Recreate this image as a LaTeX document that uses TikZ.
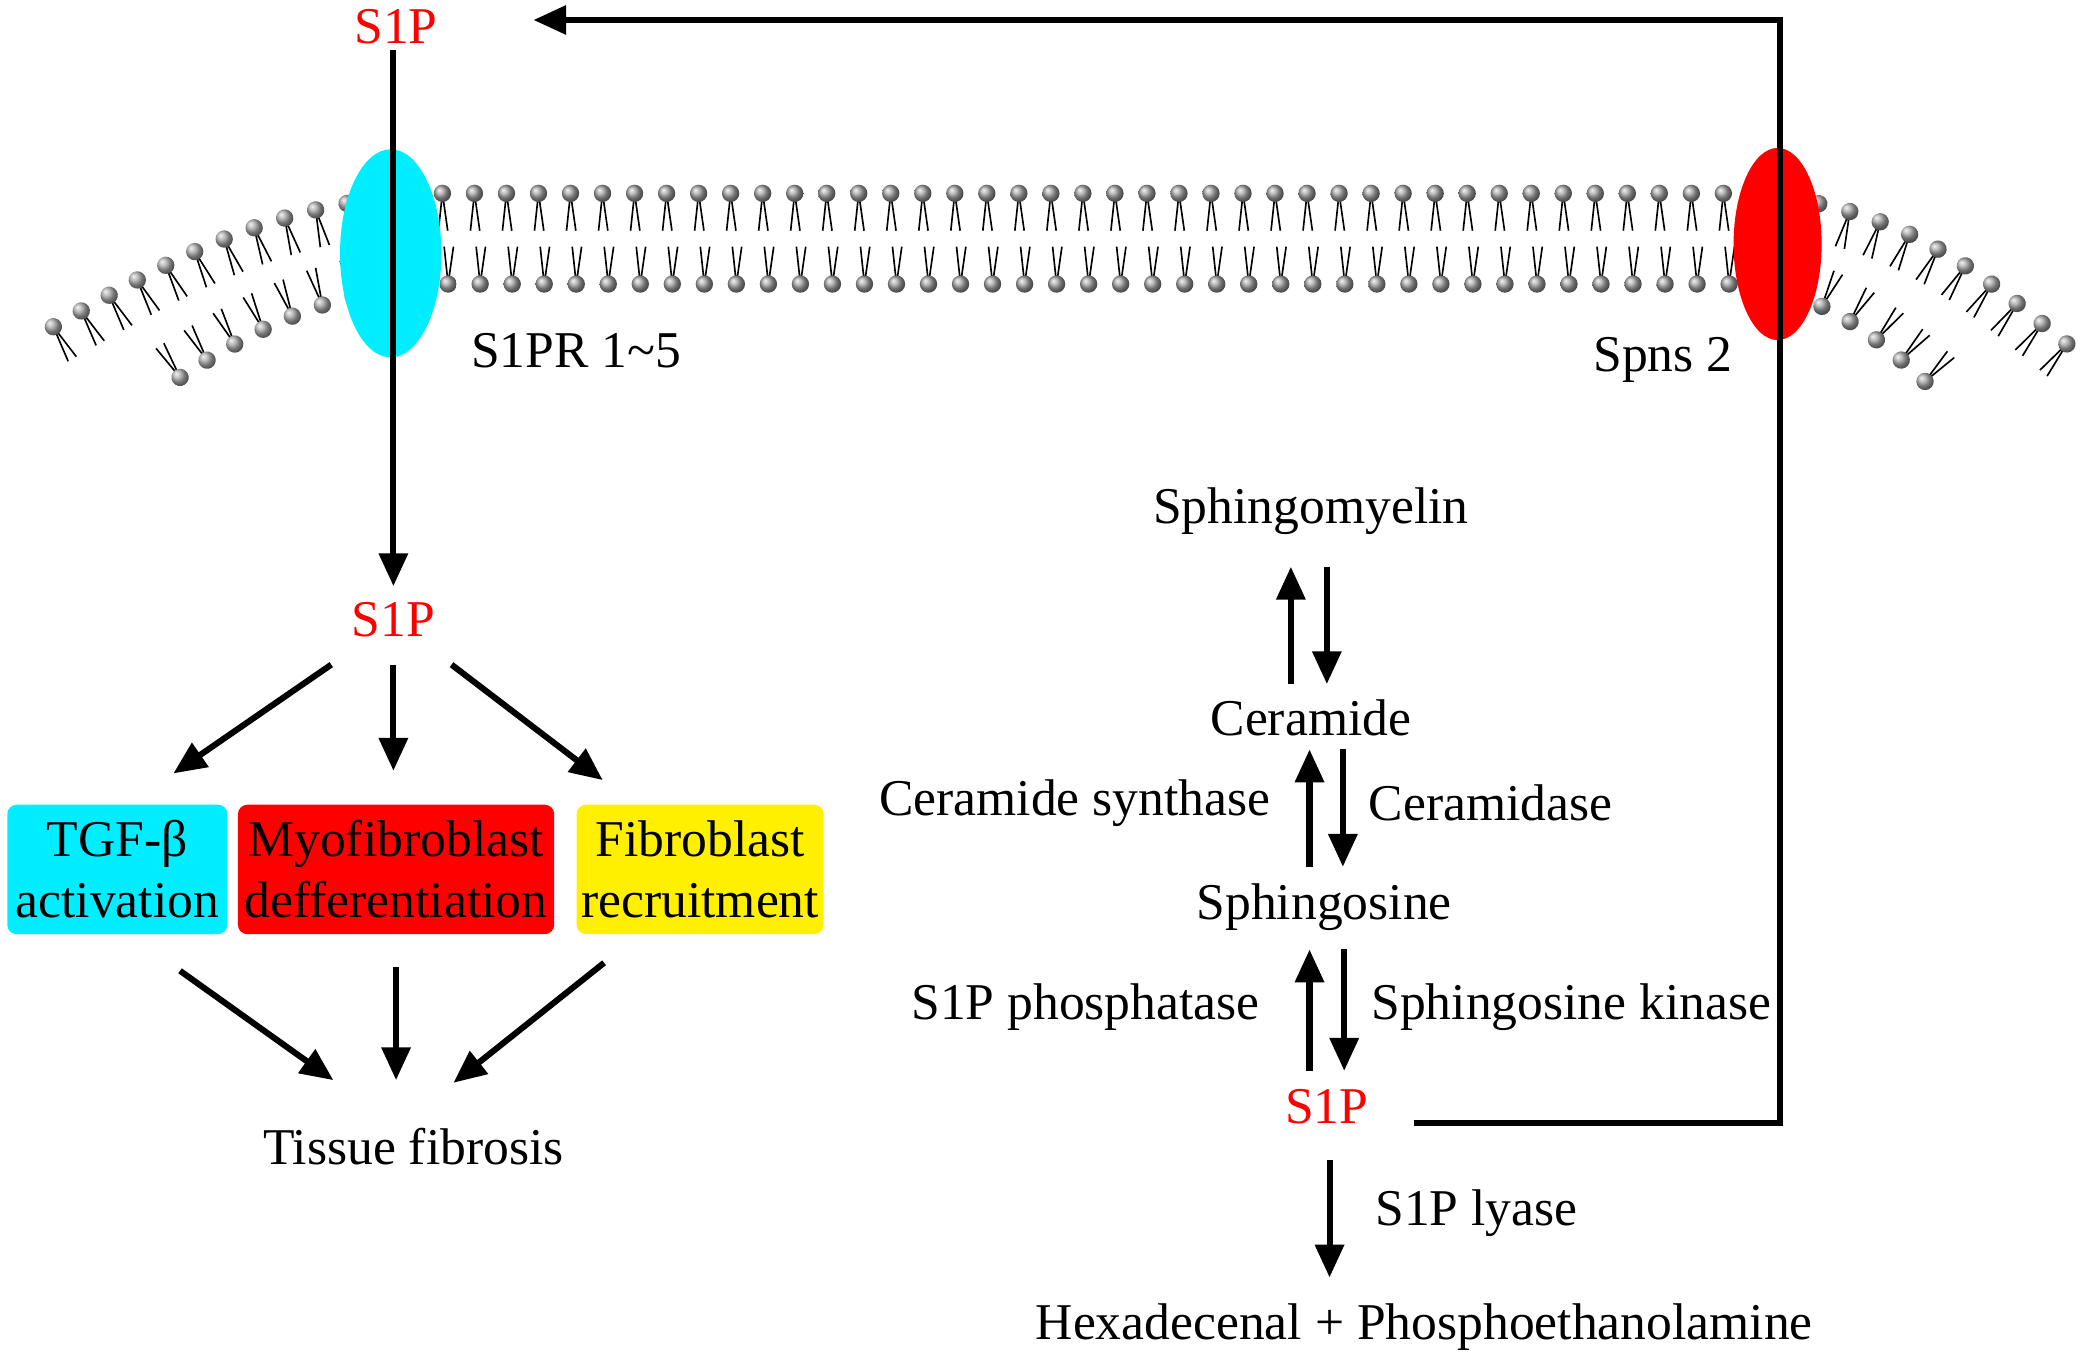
\documentclass[tikz,border=0pt]{standalone}
\usepackage{fontspec}
\setmainfont{Liberation Serif}
\usetikzlibrary{arrows.meta,decorations.markings,shapes.geometric}
\definecolor{capcyan}{RGB}{0,238,255}
\definecolor{capred}{RGB}{255,0,0}
\definecolor{capyellow}{RGB}{255,240,0}
\tikzset{
  every node/.style = {font=\fontsize{11}{13}\selectfont},
  conn/.style = {line width=1.3pt, -{Triangle[length=7pt,width=6pt]}},
  redtxt/.style = {text=capred},
  box/.style = {rounded corners=2pt, align=center, inner sep=1pt,
    minimum height=0.97cm},
  head/.style = {ball color=gray!70, draw=none},
  upper leaflet/.style = {decoration={markings,
      mark=between positions 0 and 1 step 0.24cm with {
        \draw[line width=0.35pt] (0,0) -- (-0.03cm,-0.28cm) (0,0) -- (0.04cm,-0.28cm);
        \shade[head] (0,0) circle (0.065cm);}}, decorate},
  lower leaflet/.style = {decoration={markings,
      mark=between positions 0 and 1 step 0.24cm with {
        \draw[line width=0.35pt] (0,0) -- (-0.03cm,0.28cm) (0,0) -- (0.04cm,0.28cm);
        \shade[head] (0,0) circle (0.065cm);}}, decorate}
}
\begin{document}
\begin{tikzpicture}[x=0.01cm,y=-0.01cm]
  \useasboundingbox (0,0) rectangle (1565,1019);
  % membrane
  \path[upper leaflet] (40,245) .. controls (120,200) and (200,150) .. (330,145)
    -- (1300,145) .. controls (1420,150) and (1480,200) .. (1550,258);
  \path[lower leaflet] (135,283) .. controls (200,240) and (260,215) .. (330,213)
    -- (1300,213) .. controls (1370,218) and (1410,255) .. (1450,292);
  \node[ellipse, fill=capcyan, minimum width=0.76cm, minimum height=1.56cm] (s1pr) at (293,190) {};
  \node[ellipse, fill=capred, minimum width=0.66cm, minimum height=1.44cm] (spns) at (1333,183) {};
  \node at (432,263) {S1PR 1\textasciitilde5};
  \node at (1247,270) {Spns 2};
  % left pathway
  \node[redtxt] (s1ptop) at (297,20) {S1P};
  \node[redtxt] (s1pin) at (295,465) {S1P};
  \draw[conn] (s1ptop.south -| s1pin) ++(0,-8) -- (s1pin.north);
  \node[box, fill=capcyan, minimum width=1.65cm] (tgf) at (88,652) {TGF-β\\activation};
  \node[box, fill=capred, minimum width=2.37cm] (myo) at (297,652) {Myofibroblast\\defferentiation};
  \node[box, fill=capyellow, minimum width=1.84cm] (fib) at (525,652) {Fibroblast\\recruitment};
  \node (tissue) at (310,860) {Tissue fibrosis};
  \draw[conn] (s1pin.south west) ++(-3,8) -- (130,580);
  \draw[conn] (s1pin.south) ++(0,8) -- (295,578);
  \draw[conn] (s1pin.south east) ++(0,8) -- (452,585);
  \draw[conn] (135,728) -- (250,810);
  \draw[conn] (297,725) -- (297,810);
  \draw[conn] (453,722) -- (340,812);
  % right pathway
  \node (sm) at (983,383) {Sphingomyelin};
  \node (cer) at (983,538) {Ceramide};
  \node (sph) at (993,680) {Sphingosine};
  \node[redtxt] (s1pc) at (995,830) {S1P};
  \node (prod) at (1068,995) {Hexadecenal + Phosphoethanolamine};
  \draw[conn] (968,513) -- (968,425);
  \draw[conn] (995,425) -- (995,513);
  \draw[conn] (982,650) -- (982,562);
  \draw[conn] (1007,562) -- (1007,650);
  \node[anchor=east] at (965,602) {Ceramide synthase};
  \node[anchor=west] at (1014,602) {Ceramidase};
  \draw[conn] (982,803) -- (982,712);
  \draw[conn] (1008,712) -- (1008,803);
  \node[anchor=east] at (957,755) {S1P phosphatase};
  \node[anchor=west] at (1016,755) {Sphingosine kinase};
  \draw[conn] (997,870) -- (997,958);
  \node[anchor=west] at (1019,910) {S1P lyase};
  % export loop
  \draw[conn] (1060,842) -- (1335,842) -- (1335,15) -- (400,15);
\end{tikzpicture}
\end{document}
